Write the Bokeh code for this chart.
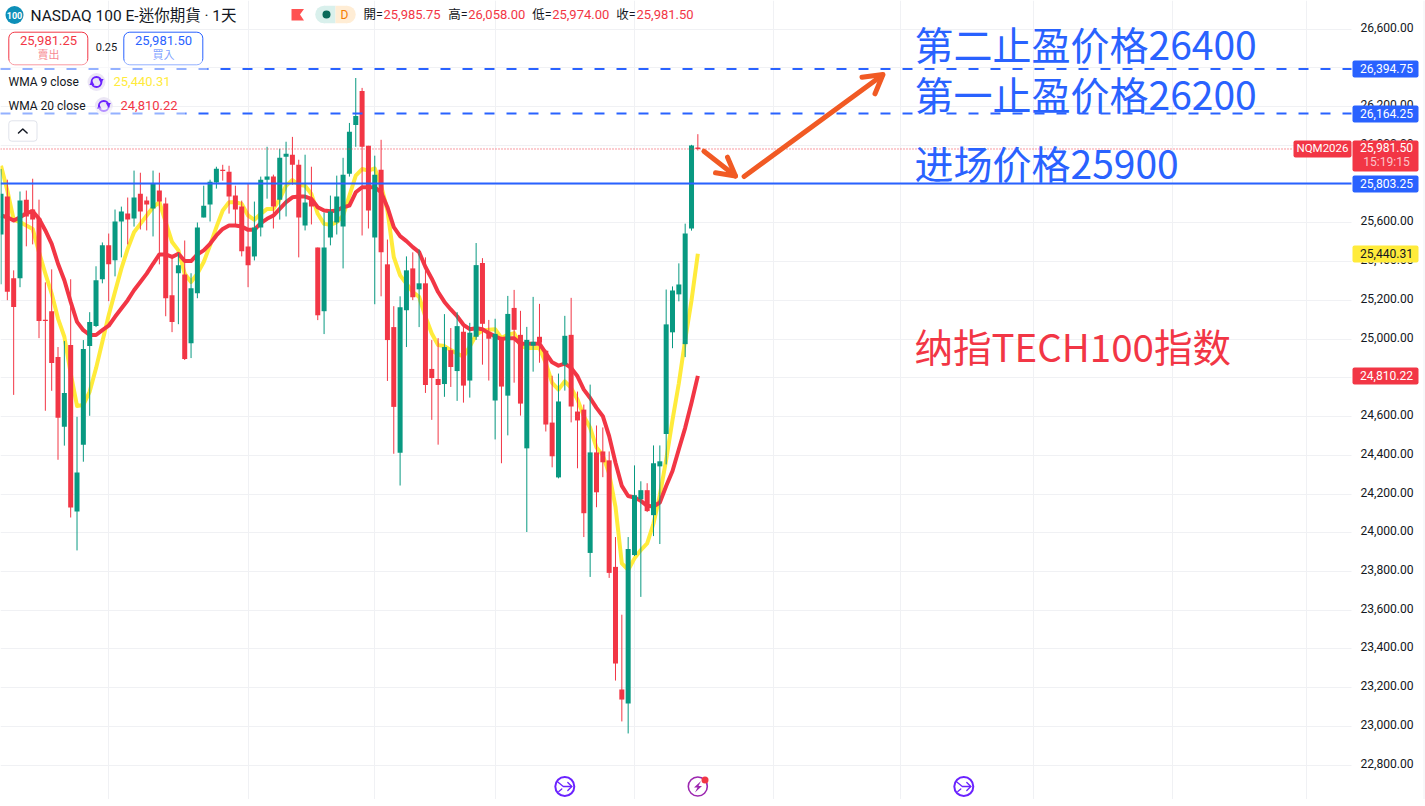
from bokeh.embed import file_html
from bokeh.resources import INLINE
from bokeh.plotting import figure
from bokeh.models import Range1d, LinearAxis, Grid, FixedTicker, NumeralTickFormatter, Label, BoxAnnotation

opens = [25540,25736,25314,25314,25720,25669,25623,25096,25144,24907,
         24547,24969,24110,24455,24964,25067,25309,25484,25407,25607,
         25648,25623,25751,25715,25674,25767,25700,25226,25340,25334,
         24979,25237,25628,25695,25808,25870,25864,25741,25684,25478,
         25427,25576,25823,25839,25720,25942,25952,25900,25587,25720,
         25473,25144,25525,25602,25581,25854,26106,26281,25998,25525,
         25875,25386,25062,24413,25149,25365,25257,25288,24846,24794,
         24768,24943,24835,25038,24786,25012,25393,25033,24683,25007,
         24708,25161,25022,24436,24966,25012,24940,24569,24286,24868,
         25022,24626,24636,23896,24415,24420,24374,23824,23191,23119,
         23885,24173,24220,24091,24343,24510,25035,25231,24974,25571,25985.75]
highs = [25878,25823,25355,25762,25767,25828,25720,25293,25360,24959,
         24990,25309,24599,24995,25139,25376,25499,25545,25669,25684,
         25731,25870,25859,25736,25870,25859,25731,25422,25443,25509,
         25340,25602,25792,25823,25890,25900,25895,25792,25715,25801,
         25710,25839,25993,25849,25983,26019,26044,25926,25952,25890,
         25473,25653,25741,25844,25936,26116,26348,26297,25998,25947,
         26029,25514,25170,25221,25427,25448,25463,25422,24995,25005,
         25129,25057,25139,25069,25084,25496,25418,25099,25105,25012,
         25223,25254,25146,25063,25218,25182,24945,24811,24822,25120,
         25213,24729,24662,24765,24554,24544,24420,23978,23577,23978,
         24348,24266,24256,24451,24451,25256,25272,25391,25596,26003,26058]
lows = [25283,25201,24712,25268,25479,25489,25005,24630,24733,24377,
        24450,24079,23909,24367,24604,25062,25288,25196,25324,25422,
        25489,25581,25566,25561,25530,25386,25118,25036,25077,24892,
        24902,25211,25628,25607,25777,25818,25648,25592,25427,25268,
        25406,25530,25725,25571,25617,25633,25797,25422,25561,25592,
        25098,25026,25484,25540,25365,25839,25993,25535,25571,25180,
        25221,24784,24408,24244,24959,25201,25062,24722,24583,24455,
        24702,24753,24681,24672,24698,24996,24868,24786,24482,24359,
        24503,24775,24605,24004,24832,24878,24523,24338,24281,24734,
        24570,24333,23978,23772,24132,24287,23767,23237,23026,22964,
        23880,23669,24107,23983,23942,24353,24953,25195,24907,25560,25974]
closes = [25750,25244,25166,25715,25633,25617,25093,25094,24877,24594,
          24722,24131,24311,24949,25088,25304,25484,25386,25607,25659,
          25617,25731,25659,25695,25803,25710,25211,25088,25381,24897,
          25262,25576,25689,25813,25880,25868,25736,25669,25453,25381,
          25576,25823,25839,25684,25936,25957,25900,25628,25705,25684,
          25123,25473,25659,25736,25849,26070,26152,25993,25664,25849,
          25448,24995,24650,25165,25355,25216,25288,24763,24799,24763,
          24959,24856,25067,24760,25033,25382,25079,25002,25027,24755,
          25130,25048,24667,24996,24986,24981,24559,24395,24678,25017,
          24652,24580,24101,24415,24209,24364,23793,23325,23139,23916,
          24194,24220,24112,24359,24369,25076,25251,25282,25545,26000,25981.5]
wma9 = [25895,25767,25616,25604,25587,25569,25449,25338,25235,25106,
        25012,24823,24655,24660,24729,24849,24986,25123,25244,25364,
        25466,25552,25595,25638,25681,25707,25604,25501,25458,25338,
        25295,25338,25398,25484,25578,25664,25707,25707,25698,25638,
        25616,25647,25672,25672,25724,25792,25821,25797,25792,25749,
        25647,25595,25590,25604,25638,25741,25844,25878,25870,25881,
        25792,25664,25424,25329,25286,25243,25218,25115,25029,24969,
        24964,24943,24926,24909,24962,25022,25044,25048,25051,25005,
        25022,25031,24966,24954,24954,24954,24876,24774,24739,24782,
        24748,24688,24602,24542,24440,24400,24305,24134,23842,23808,
        23868,23911,23945,24048,24194,24377,24583,24772,24995,25200,25440.31]
wma20 = [25638,25629,25612,25629,25650,25660,25621,25561,25492,25389,
         25304,25192,25089,25046,25021,25021,25046,25069,25115,25158,
         25201,25252,25295,25338,25389,25437,25437,25424,25441,25403,
         25403,25437,25458,25492,25535,25569,25587,25587,25581,25564,
         25564,25599,25621,25638,25672,25707,25732,25736,25736,25724,
         25681,25664,25660,25664,25681,25689,25758,25784,25784,25784,
         25758,25681,25578,25532,25506,25475,25449,25372,25312,25243,
         25192,25153,25118,25074,25051,25056,25051,25031,25014,25000,
         25005,25005,24976,24976,24976,24976,24928,24880,24863,24873,
         24851,24808,24739,24696,24645,24602,24499,24362,24242,24190,
         24182,24165,24139,24136,24156,24242,24319,24431,24542,24671,24810.22]
price_ticks = [22800,23000,23200,23400,23600,23800,24000,24200,24400,24600,24800,
               25000,25200,25400,25600,25800,26000,26200,26400,26600]
month_bars = [17,39,59,78,100,122,142,163,185,206]
target_2 = 26394.75
target_1 = 26164.25
entry = 25803.25
last_close = 25981.50

UP, DOWN, BLUE, YELLOW = "#089981", "#f23645", "#2962ff", "#ffeb3b"
ORANGE, INK, PURPLE, GRID = "#f15a24", "#131722", "#6a22ff", "#f0f1f4"
FONT = "Roboto, 'Noto Sans CJK TC'"
CJK = "'Noto Sans CJK SC'"

W, H, FRAME_W = 1425, 799, 1351
BAR_PX, BAR0_PX = 6.335, 0.5
PT_PX, TOP_PRICE = 5.163, 26748.2
X = lambda px: (px - BAR0_PX) / BAR_PX
Y = lambda py: TOP_PRICE - py * PT_PX

p = figure(width=W, height=H, output_backend="svg", toolbar_location=None,
           x_axis_location=None, y_axis_location=None,
           x_range=Range1d(X(0), X(W)), y_range=Range1d(Y(H), Y(0)),
           min_border_left=0, min_border_top=0, min_border_bottom=0, min_border_right=0,
           outline_line_color=None, background_fill_color="white", border_fill_color="white")
p.grid.visible = False
# the scale's labels sit slightly above their grid lines
p.extra_y_ranges = {"scale": Range1d(Y(H) - 2 * PT_PX, Y(0) - 2 * PT_PX)}

p.add_layout(Grid(dimension=1, ticker=FixedTicker(ticks=price_ticks), grid_line_color=GRID))
p.add_layout(Grid(dimension=0, ticker=FixedTicker(ticks=month_bars), grid_line_color=GRID))
p.add_layout(BoxAnnotation(left=X(FRAME_W), right=X(W), top=Y(0), bottom=Y(H), fill_color="white",
                           fill_alpha=1, line_alpha=0, level="underlay", editable=False))
axis = LinearAxis(ticker=FixedTicker(ticks=price_ticks), formatter=NumeralTickFormatter(format="0,0.00"),
                  y_range_name="scale", axis_line_color=None, major_tick_line_color=None,
                  minor_tick_line_color=None, major_label_standoff=3, major_label_text_font=FONT,
                  fixed_location=X(FRAME_W), major_label_text_font_size="12.1px", major_label_text_color=INK)
p.add_layout(axis, "right")
p.line([X(1423.5)] * 2, [Y(0), Y(H)], line_color=GRID, line_width=1)

bars = list(range(len(closes)))
p.line(bars, wma9, line_color=YELLOW, line_width=4, line_join="round")
p.line(bars, wma20, line_color=DOWN, line_width=4, line_join="round")

colors = [UP if c >= o else DOWN for o, c in zip(opens, closes)]
p.segment(bars, lows, bars, highs, line_color=colors, line_width=1)
p.vbar(x=bars, width=0.79, bottom=[min(o, c) for o, c in zip(opens, closes)],
       top=[max(o, c) + (0 if abs(o - c) > 6 else 4) for o, c in zip(opens, closes)],
       fill_color=colors, line_color=None)

p.line([X(0), X(FRAME_W)], [target_2] * 2, line_color=BLUE, line_width=2, line_dash="10 12")
p.line([X(0), X(FRAME_W)], [target_1] * 2, line_color=BLUE, line_width=2, line_dash="10 12")
p.line([X(0), X(FRAME_W)], [entry] * 2, line_color=BLUE, line_width=2)
p.line([X(0), X(1293)], [last_close] * 2, line_color=DOWN, line_width=1, line_dash="1 2")


def stroke(pts, color, width=2.0, cap="round", level="glyph"):
    p.line([X(a) for a, b in pts], [Y(b) for a, b in pts], line_color=color, line_width=width,
           line_cap=cap, line_join="round", level=level)


def solid(pts, color):
    p.patch([X(a) for a, b in pts], [Y(b) for a, b in pts], fill_color=color, line_color=None)


def dot(px, py, size, color=None, line=None, lw=0, marker="circle", angle=0, level="glyph"):
    p.scatter([X(px)], [Y(py)], size=size, marker=marker, fill_color=color, line_color=line,
              line_width=lw, angle=angle, fill_alpha=1 if color else 0, level=level)


def lab(px, py, text, size, color, align="left", style="normal", font=FONT, alpha=1.0):
    p.add_layout(Label(x=X(px), y=Y(py), text=text, text_font=font, text_font_size=f"{size}px",
                       text_color=color, text_align=align, text_baseline="middle", text_font_style=style,
                       text_alpha=alpha, level="overlay"))


def box(l, r, t, b, fill=None, line=None, radius=0, alpha=1.0):
    p.add_layout(BoxAnnotation(left=X(l), right=X(r), top=Y(t), bottom=Y(b), fill_color=fill,
                               fill_alpha=alpha if fill else 0, line_color=line, line_alpha=1 if line else 0,
                               border_radius=radius, level="annotation", editable=False))


# hand-drawn arrows
stroke([(743.6, 176), (881.4, 75)], ORANGE, 5)
stroke([(861.5, 76.7), (882.5, 74), (874.5, 93.3)], ORANGE, 5)
stroke([(703.4, 150.7), (735, 175.5)], ORANGE, 5)
stroke([(727, 156.7), (735, 175.5), (715, 172.3)], ORANGE, 5)

# big notes
lab(914, 42.5, "第二止盈价格26400", 39, BLUE, font=CJK)
lab(914, 92.5, "第一止盈价格26200", 39, BLUE, font=CJK)
lab(914, 161, "进场价格25900", 39, BLUE, font=CJK)
lab(914, 344, "纳指TECH100指数", 38.5, DOWN, font=CJK)

# header
dot(14, 14.5, 18, "#0e8fb8")
lab(14, 14.5, "100", 9, "white", "center", "bold")
lab(30, 15, "NASDAQ 100 E-迷你期貨 · 1天", 15.5, INK)
solid([(291, 8.5), (303.5, 8.5), (299.5, 14), (303.5, 20), (291, 20)], "#ff5252")
dot(323.5, 14, 17.5, "#d9f0ec")
dot(346.5, 14, 17.5, "#ffedd5")
p.quad(left=[X(323.5)], right=[X(335)], top=[Y(5.2)], bottom=[Y(22.8)], fill_color="#d9f0ec", line_color=None)
p.quad(left=[X(335)], right=[X(346.5)], top=[Y(5.2)], bottom=[Y(22.8)], fill_color="#ffedd5", line_color=None)
dot(326, 14, 8, "#0b6b5b")
lab(344, 14, "D", 12, "#f57c00", "center")
for px, t in [(363, "開="), (447.7, "高="), (531.7, "低="), (615.7, "收=")]:
    lab(px, 14, t, 12.5, INK)
for px, t in [(383, "25,985.75"), (467.7, "26,058.00"), (551.7, "25,974.00"), (636, "25,981.50")]:
    lab(px, 14, t, 13, DOWN)

# order buttons
box(8.3, 87.3, 31.7, 64.3, "white", DOWN, 6)
box(123.3, 202.3, 31.7, 64.3, "white", BLUE, 6)
lab(48, 40, "25,981.25", 13, DOWN, "center")
lab(48, 54.5, "賣出", 11, DOWN, "center", alpha=0.6)
lab(106, 46.5, "0.25", 11, INK, "center")
lab(163, 40, "25,981.50", 13, BLUE, "center")
lab(163, 54.5, "買入", 11, BLUE, "center", alpha=0.6)

# indicator legend
box(0, 207, 60, 72, "white", alpha=0.5)
box(0, 185, 107, 117, "white", alpha=0.5)
lab(8, 81, "WMA 9 close", 12, INK)
lab(8, 105, "WMA 20 close", 12, INK)
lab(113, 81, "25,440.31", 13, YELLOW)
lab(120, 105, "24,810.22", 13, DOWN)
for cx, cy in [(96, 81.5), (103.3, 105.5)]:
    dot(cx, cy, 18, "#ebe6f5")
    dot(cx, cy, 10, None, PURPLE, 1.8)
    dot(cx + 4.6, cy - 1.5, 5, PURPLE, marker="triangle", angle=3.14)
    dot(cx - 4.6, cy + 1.5, 5, PURPLE, marker="triangle")
box(8.3, 36.5, 120.3, 140.7, "white", "#e0e3eb", 3)
stroke([(18, 132.5), (22.3, 128.5), (26.6, 132.5)], INK, 1.5, level="overlay")

# event markers
for cx in (564.3, 963.3):
    dot(cx, 786, 19, "white", PURPLE, 2)
    stroke([(cx - 7, 781.5), (cx - 1.5, 786), (cx + 7, 786)], PURPLE, 1.3)
    stroke([(cx + 3, 782), (cx + 7, 786), (cx + 3, 790)], PURPLE, 1.3)
    stroke([(cx - 6, 791), (cx - 3, 788.5)], PURPLE, 1.3)
dot(697.3, 786, 19, "white", "#9c27b0", 1.6)
solid([(700.5, 780.5), (693.5, 787), (697, 787), (694.5, 792), (701.5, 785.5), (698, 785.5)], "#9c27b0")
dot(704.5, 779.5, 7, DOWN)

# price-scale tags
box(1352, 1418, 60, 77, BLUE, radius=2)
box(1352, 1418, 105, 122, BLUE, radius=2)
box(1352, 1418, 140, 171, DOWN, radius=2)
box(1352, 1418, 175, 192, BLUE, radius=2)
box(1352, 1418, 245, 262, YELLOW, radius=2)
box(1352, 1418, 367, 384, DOWN, radius=2)
box(1293, 1351, 140, 157, DOWN, radius=2)
lab(1386, 67.5, "26,394.75", 12.1, "white", "center")
lab(1386, 112.5, "26,164.25", 12.1, "white", "center")
lab(1386, 147, "25,981.50", 12.1, "white", "center")
lab(1386, 161, "15:19:15", 12.1, "#fbc4c9", "center")
lab(1386, 182.5, "25,803.25", 12.1, "white", "center")
lab(1386, 252.5, "25,440.31", 12.1, INK, "center")
lab(1386, 374.5, "24,810.22", 12.1, "white", "center")
lab(1322, 147.5, "NQM2026", 11.5, "white", "center")

open("out.html", "w").write(file_html(p, INLINE))
